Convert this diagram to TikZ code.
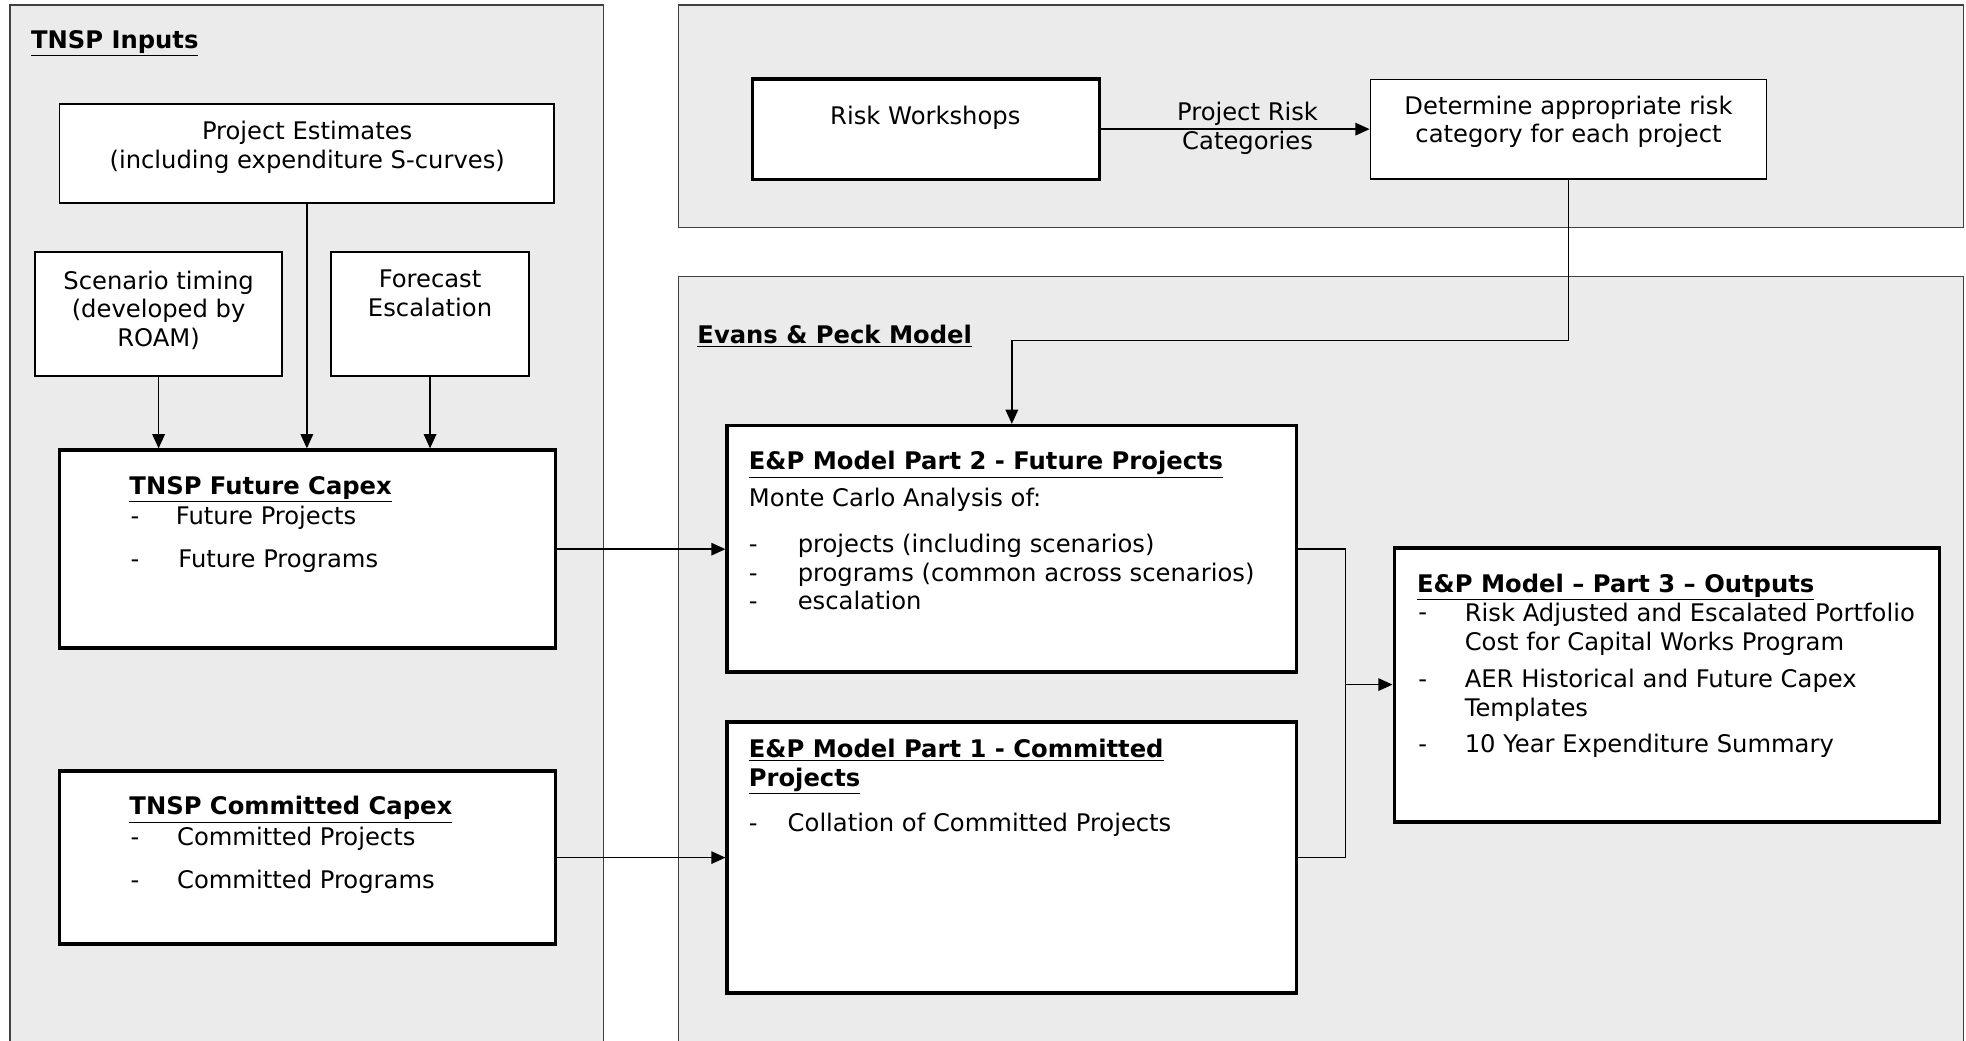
\documentclass[tikz,border=0pt]{standalone}
\usepackage{fontspec}
\setmainfont{DejaVu Sans}
\usetikzlibrary{arrows.meta,fit}

\begin{document}
\begin{tikzpicture}[x=0.75pt,y=0.75pt,yscale=-1,xscale=1,
  panel/.style={draw={rgb, 255:red, 64; green, 64; blue, 64 }, line width=0.9pt, fill={rgb, 255:red, 235; green, 235; blue, 235 }},
  thinbox/.style={draw, fill=white, line width=1pt, inner sep=0pt},
  thickbox/.style={draw, fill=white, line width=2.1pt, inner sep=0pt},
  txt/.style={inner sep=0pt, font=\fontsize{14.5}{17.25}\selectfont},
  conn/.style={line width=0.9pt, -{Triangle[length=8.5pt,width=7.5pt]}},
  link/.style={line width=0.8pt}
]
\useasboundingbox (0,0) rectangle (1568,830);

%Shape: Panel [TNSP Inputs]
\draw [panel] (8,840) -- (8,4) -- (481.5,4) -- (481.5,840) ;
%Shape: Panel [Risk]
\draw [panel] (541,4) rectangle (1566,181.5) ;
%Shape: Panel [Evans & Peck Model]
\draw [panel] (541,840) -- (541,220.5) -- (1566,220.5) -- (1566,840) ;

%Shape: Rectangle
\node [thinbox, fit={(47.5,83) (442,162)}] (est) {};
%Shape: Rectangle
\node [thinbox, fit={(28,201) (225,300)}] (scen) {};
%Shape: Rectangle
\node [thinbox, fit={(264,201) (422,300)}] (fcst) {};
%Shape: Rectangle
\node [thickbox, fit={(47.5,359) (443,517)}] (fut) {};
%Shape: Rectangle
\node [thickbox, fit={(47.5,615) (443,753)}] (com) {};
%Shape: Rectangle
\node [thickbox, fit={(600,63) (877,143)}] (rw) {};
%Shape: Rectangle
\node [thinbox, fit={(1093,63.5) (1409,143)}] (det) {};
%Shape: Rectangle
\node [thickbox, fit={(580,339.5) (1034,536)}] (p2) {};
%Shape: Rectangle
\node [thickbox, fit={(580,576) (1034,792)}] (p1) {};
%Shape: Rectangle
\node [thickbox, fit={(1112,437) (1547,655.5)}] (p3) {};

%Straight Lines
\draw [conn] (scen.south) -- (scen.south |- fut.north) ;
%Straight Lines
\draw [conn] (est.south) -- (est.south |- fut.north) ;
%Straight Lines
\draw [conn] (fcst.south) -- (fcst.south |- fut.north) ;
%Straight Lines
\draw [conn] (fut.east) -- (fut.east -| p2.west) ;
%Straight Lines
\draw [conn] (com.east) -- (com.east -| p1.west) ;
%Straight Lines
\draw [conn] (rw.east) -- (rw.east -| det.west) ;
% Text Node
\draw (995,119.5) node [txt, anchor=base, align=center] (lblrisk) {Project Risk\\Categories};
%Shape: Polyline
\coordinate (bend) at (1251,271.5) ;
\draw [conn] (det.south) -- (det.south |- bend) -| (p2.north) ;
%Shape: Polyline
\coordinate (join) at (1073,546) ;
\draw [link] (p2.east) -| (join) |- (p1.east) ;
\draw [conn] (join) -- (join -| p3.west) ;

% Text Node
\draw (24.5,38.5) node [txt, anchor=base west] (tinputs) {\underline{\textbf{TNSP Inputs}}};
% Text Node
\draw (245,134) node [txt, anchor=base, align=center] (test) {Project Estimates\\(including expenditure S-curves)};
% Text Node
\draw (126.5,276.5) node [txt, anchor=base, align=center] (tscen) {Scenario timing\\(developed by\\ROAM)};
% Text Node
\draw (343,252.5) node [txt, anchor=base, align=center] (tfcst) {Forecast\\Escalation};
% Text Node
\draw (103,394) node [txt, anchor=base west] (tfut) {\underline{\textbf{TNSP Future Capex}}};
\draw (104,418.5) node [txt, anchor=base west] (dfut1) {-};
\draw (140,418.5) node [txt, anchor=base west] (tfut1) {Future Projects};
\draw (104,453) node [txt, anchor=base west] (dfut2) {-};
\draw (142,453) node [txt, anchor=base west] (tfut2) {Future Programs};
% Text Node
\draw (103,650) node [txt, anchor=base west] (tcom) {\underline{\textbf{TNSP Committed Capex}}};
\draw (104,674) node [txt, anchor=base west] (dcom1) {-};
\draw (141,674) node [txt, anchor=base west] (tcom1) {Committed Projects};
\draw (104,708.5) node [txt, anchor=base west] (dcom2) {-};
\draw (141,708.5) node [txt, anchor=base west] (tcom2) {Committed Programs};

% Text Node
\draw (738,99.5) node [txt, anchor=base] (trw) {Risk Workshops};
% Text Node
\draw (1251,114) node [txt, anchor=base, align=center] (tdet) {Determine appropriate risk\\category for each project};

% Text Node
\draw (556,274) node [txt, anchor=base west] (tepm) {\underline{\textbf{Evans \& Peck Model}}};
% Text Node
\draw (597,374.5) node [txt, anchor=base west] (tp2) {\underline{\textbf{E\&P Model Part 2 - Future Projects}}};
\draw (597,404) node [txt, anchor=base west] (tmc) {Monte Carlo Analysis of:};
\draw (597,441) node [txt, anchor=base west] (dp21) {-};
\draw (636,441) node [txt, anchor=base west] (tp21) {projects (including scenarios)};
\draw (597,463.5) node [txt, anchor=base west] (dp22) {-};
\draw (636,463.5) node [txt, anchor=base west] (tp22) {programs (common across scenarios)};
\draw (597,486.5) node [txt, anchor=base west] (dp23) {-};
\draw (636,486.5) node [txt, anchor=base west] (tp23) {escalation};
% Text Node
\draw (597,627) node [txt, anchor=base west, align=left] (tp1) {\underline{\textbf{E\&P Model Part 1 - Committed}}\\\underline{\textbf{Projects}}};
\draw (597,663) node [txt, anchor=base west] (dp11) {-};
\draw (628,663) node [txt, anchor=base west] (tp11) {Collation of Committed Projects};
% Text Node
\draw (1130,472.5) node [txt, anchor=base west] (tp3) {\underline{\textbf{E\&P Model – Part 3 – Outputs}}};
\draw (1131,495) node [txt, anchor=base west] (dp31) {-};
\draw (1168,518.5) node [txt, anchor=base west, align=left] (tp31) {Risk Adjusted and Escalated Portfolio\\Cost for Capital Works Program};
\draw (1131,548.5) node [txt, anchor=base west] (dp32) {-};
\draw (1168,571.5) node [txt, anchor=base west, align=left] (tp32) {AER Historical and Future Capex\\Templates};
\draw (1131,600.5) node [txt, anchor=base west] (dp33) {-};
\draw (1168,600.5) node [txt, anchor=base west] (tp33) {10 Year Expenditure Summary};

\end{tikzpicture}
\end{document}
